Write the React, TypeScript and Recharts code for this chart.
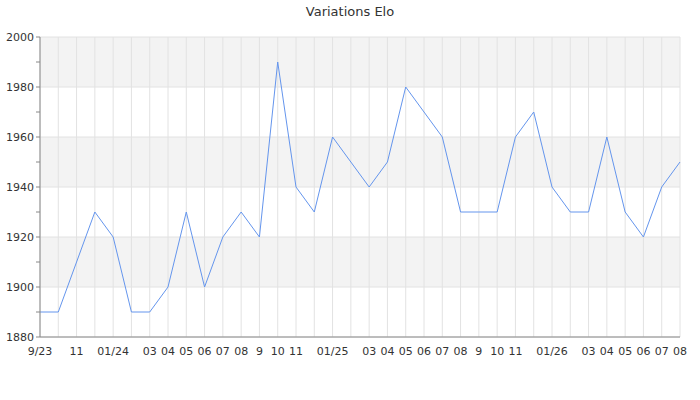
import React from 'react';
import { LineChart, Line, XAxis, YAxis, CartesianGrid } from 'recharts';

// one entry per month, 9/23 .. 08/26
const months = [
  '2023-09', '2023-10', '2023-11', '2023-12',
  '2024-01', '2024-02', '2024-03', '2024-04', '2024-05', '2024-06',
  '2024-07', '2024-08', '2024-09', '2024-10', '2024-11', '2024-12',
  '2025-01', '2025-02', '2025-03', '2025-04', '2025-05', '2025-06',
  '2025-07', '2025-08', '2025-09', '2025-10', '2025-11', '2025-12',
  '2026-01', '2026-02', '2026-03', '2026-04', '2026-05', '2026-06',
  '2026-07', '2026-08',
];

const elo = [
  1890, 1890, 1910, 1930,
  1920, 1890, 1890, 1900, 1930, 1900,
  1920, 1930, 1920, 1990, 1940, 1930,
  1960, 1950, 1940, 1950, 1980, 1970,
  1960, 1930, 1930, 1930, 1960, 1970,
  1940, 1930, 1930, 1960, 1930, 1920,
  1940, 1950,
];

// labels that are actually shown under the axis (blank = hidden)
const tickLabels = [
  '9/23', '', '11', '',
  '01/24', '', '03', '04', '05', '06',
  '07', '08', '9', '10', '11', '',
  '01/25', '', '03', '04', '05', '06',
  '07', '08', '9', '10', '11', '',
  '01/26', '', '03', '04', '05', '06',
  '07', '08',
];

const yTicks = [1880, 1890, 1900, 1910, 1920, 1930, 1940, 1950, 1960, 1970, 1980, 1990, 2000];
const gridValues = [1880, 1900, 1920, 1940, 1960, 1980, 2000];

const data = months.map((m, i) => ({ month: m, label: tickLabels[i], elo: elo[i] }));

const font = 'DejaVu Sans, sans-serif';

export default function App() {
  return (
    <div style={{ position: 'absolute', left: 0, top: 0, width: 700, height: 400, background: '#fff' }}>
      <div style={{ position: 'absolute', top: 4, width: 700, textAlign: 'center', fontFamily: font, fontSize: 13, color: '#333' }}>
        Variations Elo
      </div>
      <LineChart width={700} height={400} data={data} margin={{ top: 37, right: 20, bottom: 33, left: 0 }}>
        {/* stripes go top to bottom: 2000-1980 grey, 1980-1960 white, ... */}
        <CartesianGrid
          stroke="#e2e2e2"
          horizontalValues={gridValues}
          horizontalFill={['#f3f3f3', '#ffffff']}
          fillOpacity={1}
        />
        <XAxis
          dataKey="month"
          interval={0}
          tickFormatter={(_v: string, i: number) => tickLabels[i]}
          tickLine={false}
          stroke="#888"
          height={30}
          tick={{ fill: '#333', fontSize: 11, fontFamily: font }}
          tickMargin={4}
        />
        <YAxis
          domain={[1880, 2000]}
          ticks={yTicks}
          interval={0}
          width={40}
          stroke="#888"
          tickSize={4}
          tickFormatter={(v: number) => (v % 20 === 0 ? String(v) : '')}
          tick={{ fill: '#333', fontSize: 11, fontFamily: font }}
        />
        <Line type="linear" dataKey="elo" stroke="#6495ed" strokeWidth={1} dot={false} isAnimationActive={false} />
      </LineChart>
    </div>
  );
}
